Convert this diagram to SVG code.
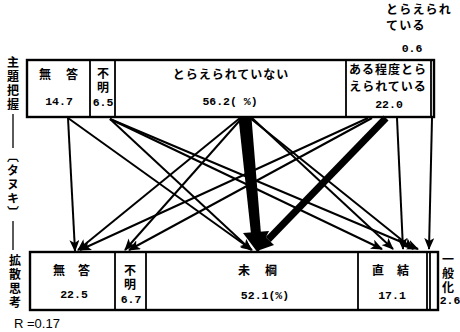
<svg xmlns="http://www.w3.org/2000/svg" width="460" height="332" viewBox="0 0 460 332">
<style>
.box{fill:none;stroke:#000;stroke-width:2.4}
.dv{stroke:#000;stroke-width:1.8}
.jp{font-family:"Noto Sans CJK JP","Noto Sans CJK SC",sans-serif;font-size:12px;font-weight:bold;fill:#000}
.num{font-family:"Liberation Mono","DejaVu Sans Mono",monospace;font-size:11.5px;font-weight:bold;fill:#000}
.vt{font-family:"Noto Sans CJK JP","Noto Sans CJK SC",sans-serif;font-size:12px;font-weight:bold;fill:#000;writing-mode:vertical-rl;letter-spacing:2px}
.c{text-anchor:middle}
.ln{stroke:#000;stroke-width:2;fill:none;marker-end:url(#ah)}
.sl{stroke:#000;stroke-width:1.3}
</style>
<defs>
<marker id="ah" markerUnits="userSpaceOnUse" viewBox="0 0 12 10" refX="11" refY="5" markerWidth="12" markerHeight="10" orient="auto"><path d="M0,0 L12,5 L0,10 L3,5z" fill="#000"/></marker>
</defs>
<rect width="460" height="332" fill="#fff"/>

<g id="side-label">
<text class="vt" x="13" y="56">主題把握</text>
<line class="sl" x1="13" y1="114" x2="13" y2="148"/>
<text class="vt" x="13" y="150" letter-spacing="0.5">〔タヌキ〕</text>
<line class="sl" x1="13" y1="221" x2="13" y2="250"/>
<text class="vt" x="15" y="254" letter-spacing="2.5">拡散思考</text>
</g>

<g id="top-box">
<rect class="box" x="27" y="60" width="407" height="57"/>
<line class="dv" x1="90" y1="60" x2="90" y2="117"/>
<line class="dv" x1="115" y1="60" x2="115" y2="117"/>
<line class="dv" x1="346" y1="60" x2="346" y2="117"/>
<line class="dv" x1="431" y1="60" x2="431" y2="117"/>
</g>
<g id="top-mutou">
<text class="jp" x="39" y="79">無</text>
<text class="jp" x="66" y="79">答</text>
<text class="num c" x="59" y="105">14.7</text>
</g>
<g id="top-fumei">
<text class="vt" x="103" y="67">不明</text>
<text class="num c" x="103" y="106">6.5</text>
</g>
<g id="top-toraerareteinai">
<text class="jp c" x="231" y="79" letter-spacing="1">とらえられていない</text>
<text class="num c" x="230" y="105">56.2( %)</text>
</g>
<g id="top-aruteido">
<text class="jp c" x="388" y="73.5" font-size="11.5" letter-spacing="1">ある程度とら</text>
<text class="jp c" x="388" y="90.5" font-size="11.5" letter-spacing="1">えられている</text>
<text class="num c" x="389" y="108">22.0</text>
</g>
<g id="top-toraerareteiru">
<text class="jp" x="386" y="14" font-size="10" letter-spacing="1.2">とらえられ</text>
<text class="jp" x="386" y="30" font-size="10" letter-spacing="1.2">ている</text>
<text class="num c" x="412" y="52">0.6</text>
</g>

<g id="bottom-box">
<rect class="box" x="30" y="252" width="408" height="58"/>
<line class="dv" x1="115" y1="252" x2="115" y2="310"/>
<line class="dv" x1="146" y1="252" x2="146" y2="310"/>
<line class="dv" x1="358" y1="252" x2="358" y2="310"/>
<line class="dv" x1="427" y1="252" x2="427" y2="310"/>
<line class="dv" x1="430" y1="252" x2="430" y2="310"/>
</g>
<g id="bot-mutou">
<text class="jp" x="53" y="275">無</text>
<text class="jp" x="78" y="275">答</text>
<text class="num c" x="74" y="298">22.5</text>
</g>
<g id="bot-fumei">
<text class="vt" x="130" y="264">不明</text>
<text class="num c" x="131" y="303">6.7</text>
</g>
<g id="bot-mi">
<text class="jp" x="238" y="275">未</text>
<text class="jp" x="265" y="275">棡</text>
<text class="num c" x="265" y="299">52.1(%)</text>
</g>
<g id="bot-chokketsu">
<text class="jp" x="372" y="275">直</text>
<text class="jp" x="397" y="275">結</text>
<text class="num c" x="392" y="299">17.1</text>
</g>
<g id="bot-ippanka">
<text class="vt" x="448" y="253" letter-spacing="1">一般化</text>
<text class="num c" x="450" y="304">2.6</text>
</g>

<g id="connectors">
<line class="ln" x1="68" y1="118" x2="75" y2="251"/>
<line class="ln" x1="68" y1="118" x2="252" y2="250"/>
<line class="ln" x1="110" y1="119" x2="251" y2="250"/>
<line class="ln" x1="110" y1="119" x2="382" y2="249"/>
<line class="ln" x1="110" y1="119" x2="418" y2="249"/>
<line class="ln" x1="240" y1="118" x2="78" y2="250"/>
<line class="ln" x1="242" y1="118" x2="125" y2="250"/>
<line class="ln" x1="252" y1="118" x2="393" y2="249"/>
<line class="ln" x1="250" y1="118" x2="413" y2="249"/>
<line class="ln" x1="368" y1="118" x2="80" y2="250"/>
<line class="ln" x1="372" y1="118" x2="129" y2="250"/>
<line class="ln" x1="397" y1="118" x2="403" y2="249"/>
<line class="ln" x1="432" y1="118" x2="429" y2="249"/>
<polygon points="383.5,115.6 388.5,120.4 270.7,241.9 265.7,237.1"/>
<polygon points="274,245 262.4,233.9 257,251"/>
<polygon points="238.5,118 251.5,118 261,234 251,234"/>
<polygon points="243,233 269,231 258,253"/>
</g>

<text x="14" y="328" font-family="Liberation Sans, sans-serif" font-size="13" fill="#000">R =0.17</text>
</svg>
